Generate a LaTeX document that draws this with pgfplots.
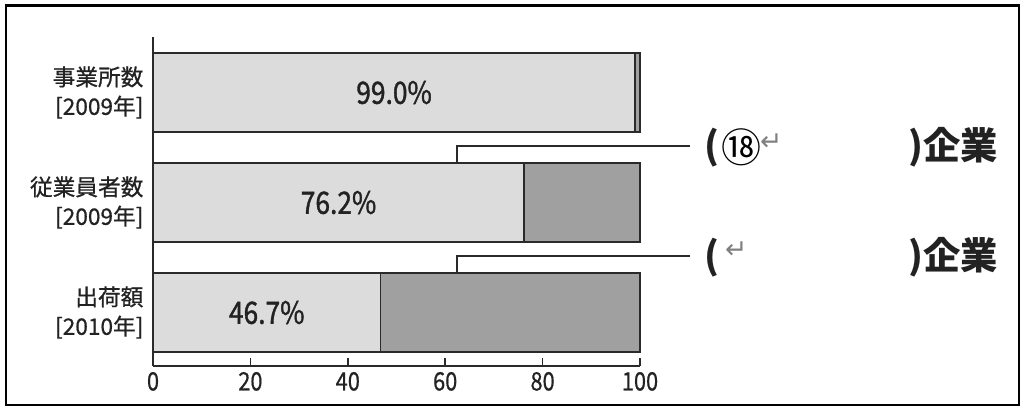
\documentclass[border=0pt]{standalone}
\usepackage{fontspec}
\setmainfont{Noto Sans CJK JP}
\newfontfamily\med[FakeBold=1.4]{Noto Sans CJK JP}
\newfontfamily\semi[FakeBold=0.7]{Noto Sans CJK JP}
\newfontfamily\sym{DejaVu Sans}
\usepackage{pgfplots}
\pgfplotsset{compat=1.18}

\definecolor{light}{HTML}{DCDCDC}
\definecolor{dark}{HTML}{9FA09F}
\definecolor{edge}{HTML}{2A2A2A}
\definecolor{txt}{HTML}{222222}

\newcommand{\cnd}[1]{\scalebox{0.86}[1]{#1}}

\begin{document}
\begin{tikzpicture}
% page size and outer frame
\path (0pt,0pt) rectangle (769.5pt,308.25pt);
\draw[line width=2.2pt, black] (4.5pt,4.5pt) rectangle (764.25pt,304pt);

\begin{axis}[
    at={(114.75pt,33.75pt)}, anchor=south west,
    scale only axis,
    width=365.25pt, height=246.75pt,
    xbar stacked, bar width=59.25pt,
    xmin=0, xmax=100, ymin=-0.486, ymax=2.505,
    axis x line*=bottom, axis y line*=left,
    axis line style={-, line width=1.3pt, edge},
    xtick={0,20,...,100},
    xticklabels={\cnd{0},\cnd{20},\cnd{40},\cnd{60},\cnd{80},\cnd{100}},
    tick align=inside, major tick length=6pt,
    xtick style={line width=1.3pt, edge},
    ytick={0,1,2}, ytick style={draw=none},
    yticklabels={{出荷額\\{}[2010年]}, {従業員者数\\{}[2009年]}, {事業所数\\{}[2009年]}},
    yticklabel style={align=right, font=\semi\fontsize{17}{22}\selectfont, text=txt, inner sep=0pt, xshift=-7pt},
    xticklabel style={font=\semi\fontsize{19}{22}\selectfont, text=txt, yshift=-1pt},
    clip=false,
]
\addplot[fill=light, draw=edge, line width=1.2pt] coordinates {(99.0,2) (76.2,1) (46.7,0)};
\addplot[fill=dark, draw=edge, line width=1.2pt] coordinates {(1.0,2) (23.8,1) (53.3,0)};

% anchor points for the percentage labels
\coordinate (pa) at (axis cs:49.5,2);
\coordinate (pb) at (axis cs:38.1,1);
\coordinate (pc) at (axis cs:23.35,0);

% callouts
\draw[line width=1.4pt, edge] (axis cs:62.4,1.05) -- (axis cs:62.4,1.514) -- (axis cs:110.3,1.514);
\draw[line width=1.4pt, edge] (axis cs:62.4,0.05) -- (axis cs:62.4,0.514) -- (axis cs:110.3,0.514);

\node[anchor=west, inner sep=0pt, font=\bfseries\fontsize{28}{30}\selectfont, text=txt] at (axis cs:113.2,1.50) {(};
\node[anchor=west, inner sep=0pt, font=\fontsize{30}{32}\selectfont] at (axis cs:116.6,1.50) {⑱};
\node[anchor=west, inner sep=0pt, font=\sym\fontsize{20}{22}\selectfont, text=gray] at (axis cs:124.6,1.55) {↵};
\node[anchor=east, inner sep=0pt, font=\bfseries\fontsize{28}{30}\selectfont, text=txt] at (axis cs:173.5,1.50) {)企業};

\node[anchor=west, inner sep=0pt, font=\bfseries\fontsize{28}{30}\selectfont, text=txt] at (axis cs:113.2,0.50) {(};
\node[anchor=west, inner sep=0pt, font=\sym\fontsize{20}{22}\selectfont, text=gray] at (axis cs:117.4,0.57) {↵};
\node[anchor=east, inner sep=0pt, font=\bfseries\fontsize{28}{30}\selectfont, text=txt] at (axis cs:173.5,0.50) {)企業};
\end{axis}

\node[font=\med\fontsize{23}{25}\selectfont, text=txt] at (pa) {\cnd{99.0\%}};
\node[font=\med\fontsize{23}{25}\selectfont, text=txt] at (pb) {\cnd{76.2\%}};
\node[font=\med\fontsize{23}{25}\selectfont, text=txt] at (pc) {\cnd{46.7\%}};
\end{tikzpicture}
\end{document}
